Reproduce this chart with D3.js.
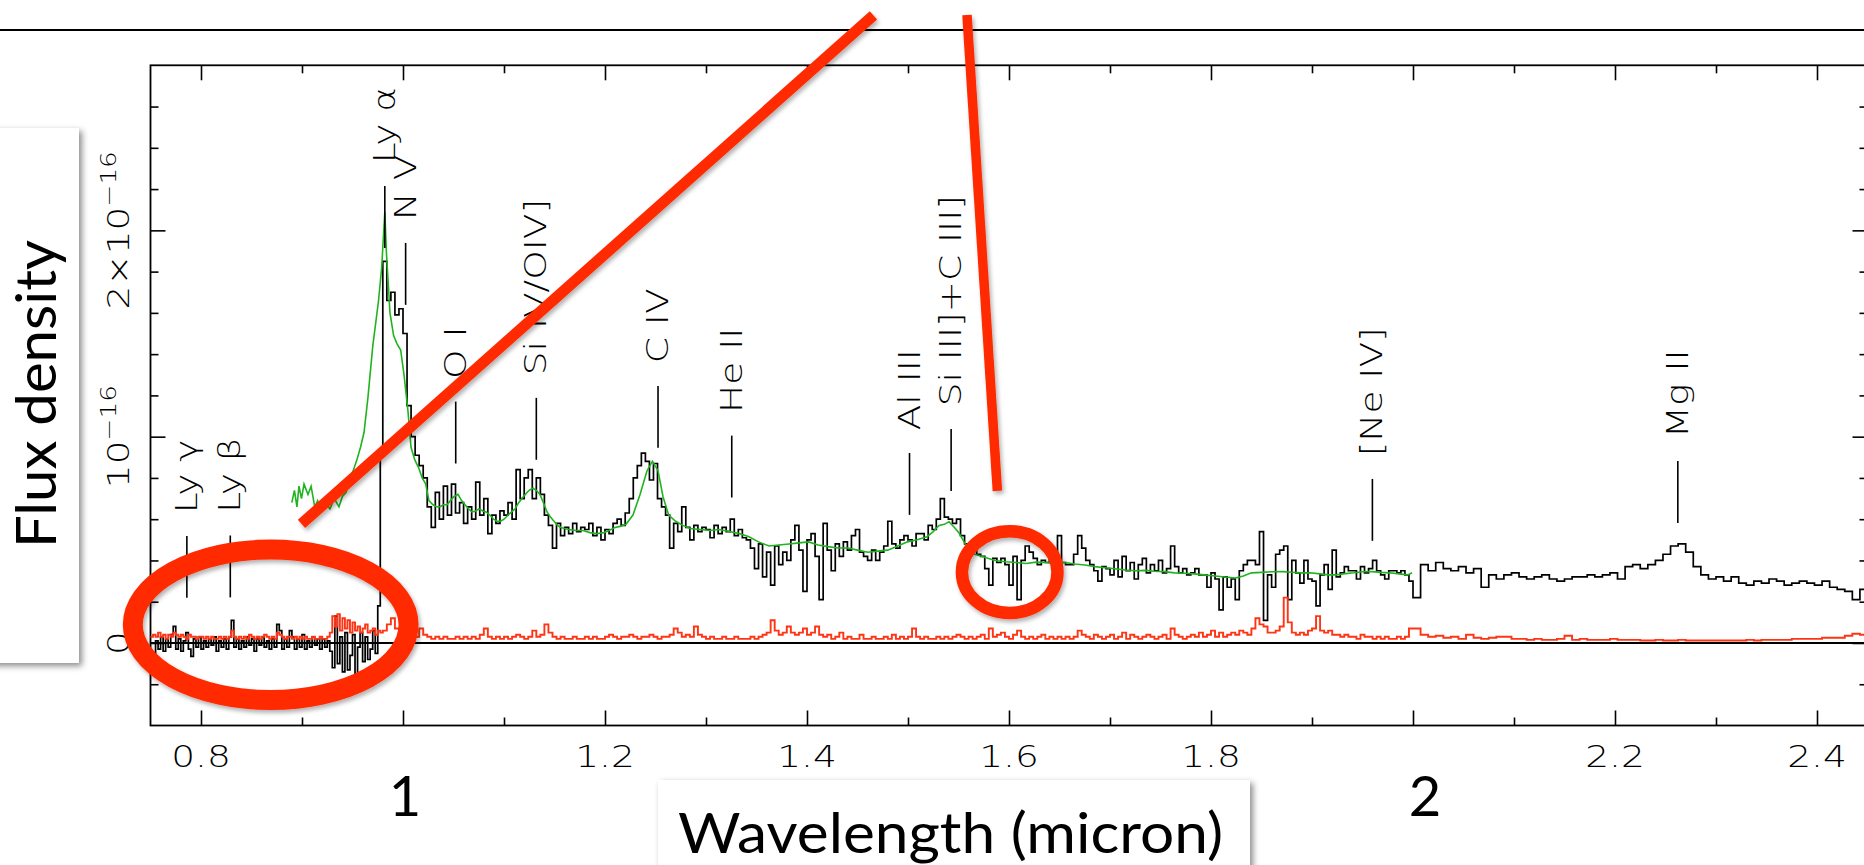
<!DOCTYPE html>
<html>
<head>
<meta charset="utf-8">
<script src="https://cdn.jsdelivr.net/npm/d3@7"></script>
<style>
  html, body { margin: 0; padding: 0; background: #fff; overflow: hidden; }
  svg { display: block; }
  .plotfont { font-family: "DejaVu Sans", sans-serif; font-weight: 200; fill: #000; }
  .slidefont { font-family: Lato, "Open Sans", sans-serif; fill: #000; }
</style>
</head>
<body>
<svg id="chart" width="1864" height="865"></svg>
<script>
// ---------------------------------------------------------------
// Spectrum of the z = 7.085 quasar (flux density in 1e-16 units)
// ---------------------------------------------------------------

// Optical (z-band) segment: uniform bins
const zBandStart = 0.75, zBandStep = 0.0025;
const zBandFlux = [
  -0.07,-0.07,0.01,-0.03,0.03,-0.04,0.02,-0.02,0.04,0.08,
  -0.03,0.02,-0.04,0.01,0.05,-0.03,-0.065,0.02,-0.02,0.03,
  -0.03,0.01,-0.02,0.02,-0.01,0.03,-0.04,0.01,-0.02,0.02,
  -0.03,0.03,0.11,-0.02,0.02,-0.03,0.01,-0.02,0.03,-0.01,
  0.02,-0.04,0.02,-0.01,0.03,-0.02,0.01,-0.03,0.02,-0.02,
  0.09,0.06,-0.03,0.02,-0.02,0.06,0.03,-0.03,0.02,-0.02,
  0.04,-0.03,0.01,-0.02,0.03,-0.01,0.02,-0.03,0.02,-0.02,
  0.01,-0.04,-0.12,0.13,-0.10,0.03,-0.14,0.05,-0.13,-0.06,
  0.04,-0.15,-0.02,0.05,-0.09,0.03,-0.08,-0.03,0.06,-0.05,
  0.18,0.94
];
const zBandErr = [
  0.03,0.04,0.03,0.05,0.03,0.04,0.02,0.04,0.03,0.05,
  0.04,0.03,0.04,0.03,0.02,0.04,0.03,0.03,0.02,0.03,
  0.03,0.02,0.03,0.02,0.03,0.02,0.02,0.03,0.02,0.03,
  0.02,0.03,0.06,0.03,0.02,0.03,0.02,0.03,0.02,0.04,
  0.03,0.02,0.03,0.02,0.03,0.04,0.03,0.02,0.03,0.02,
  0.05,0.04,0.03,0.02,0.03,0.03,0.02,0.03,0.02,0.03,
  0.02,0.03,0.02,0.02,0.03,0.02,0.02,0.03,0.02,0.02,
  0.03,0.05,0.13,0.08,0.14,0.06,0.12,0.07,0.11,0.05,
  0.10,0.06,0.08,0.05,0.07,0.09,0.05,0.06,0.07,0.04,
  0.06,0.05
];

// Near-infrared J/H segment
const jhBandStart = 0.98, jhBandStep = 0.004;
const jhBandFlux = [
  1.85,1.66,1.70,1.59,1.62,1.50,1.15,1.00,0.91,0.86,
  0.80,0.66,0.56,0.73,0.60,0.76,0.62,0.77,0.63,0.68,
  0.58,0.66,0.60,0.78,0.62,0.70,0.53,0.62,0.58,0.64,
  0.62,0.68,0.60,0.84,0.70,0.80,0.84,0.70,0.80,0.72,
  0.62,0.57,0.46,0.58,0.52,0.56,0.53,0.58,0.54,0.56,
  0.55,0.58,0.52,0.56,0.50,0.55,0.53,0.58,0.60,0.57,
  0.63,0.70,0.80,0.86,0.92,0.88,0.79,0.87,0.70,0.66,
  0.62,0.46,0.58,0.54,0.66,0.56,0.50,0.57,0.54,0.56,
  0.55,0.51,0.57,0.53,0.56,0.54,0.60,0.52,0.55,0.51,
  0.50,0.46,0.36,0.48,0.32,0.44,0.28,0.47,0.38,0.44,
  0.40,0.50,0.57,0.45,0.25,0.50,0.53,0.42,0.21,0.58,
  0.45,0.35,0.48,0.42,0.49,0.45,0.52,0.55,0.44,0.42,
  0.40,0.45,0.40,0.44,0.47,0.59,0.48,0.46,0.50,0.52,
  0.50,0.47,0.53,0.53,0.50,0.57,0.55,0.60,0.70,0.61,
  0.60,0.58,0.60,0.52,0.48,0.46,0.45,0.43,0.42,0.36,
  0.28,0.41,0.39,0.41,0.38,0.28,0.42,0.21,0.40,0.47,
  0.44,0.41,0.38,0.40,0.39,0.41,0.44,0.52,0.39,0.38,
  0.38,0.43,0.52,0.46,0.40,0.38,0.35,0.30,0.37,0.36,
  0.33,0.40,0.32,0.42,0.35,0.39,0.31,0.38,0.41,0.34,
  0.38,0.35,0.40,0.34,0.36,0.47,0.37,0.34,0.36,0.33,
  0.34,0.36,0.33,0.33,0.27,0.34,0.31,0.16,0.32,0.27,
  0.31,0.21,0.35,0.38,0.40,0.40,0.38,0.54,0.11,0.33,
  0.27,0.43,0.45,0.47,0.21,0.40,0.34,0.29,0.40,0.31,
  0.30,0.18,0.33,0.38,0.26,0.45,0.32,0.34,0.37,0.35,
  0.35,0.31,0.37,0.34,0.36,0.40,0.35,0.33,0.31,0.35,
  0.35,0.34,0.35,0.33,0.30
];
const jhBandErr = [
  0.06,0.09,0.12,0.07,0.05,0.04,0.03,0.04,0.03,0.07,
  0.04,0.03,0.02,0.03,0.02,0.03,0.02,0.02,0.03,0.02,
  0.03,0.02,0.03,0.02,0.04,0.07,0.03,0.02,0.03,0.02,
  0.03,0.02,0.03,0.04,0.03,0.02,0.03,0.06,0.03,0.04,
  0.09,0.05,0.03,0.02,0.03,0.02,0.02,0.03,0.02,0.02,
  0.03,0.02,0.03,0.02,0.02,0.03,0.04,0.03,0.02,0.03,
  0.03,0.04,0.03,0.02,0.03,0.03,0.04,0.03,0.02,0.03,
  0.03,0.04,0.07,0.05,0.03,0.04,0.03,0.08,0.04,0.03,
  0.02,0.03,0.02,0.02,0.03,0.02,0.02,0.03,0.02,0.02,
  0.02,0.03,0.02,0.03,0.04,0.05,0.11,0.06,0.04,0.05,
  0.08,0.05,0.04,0.05,0.07,0.04,0.05,0.08,0.04,0.03,
  0.04,0.02,0.03,0.05,0.02,0.03,0.02,0.02,0.04,0.02,
  0.02,0.03,0.02,0.02,0.03,0.02,0.04,0.02,0.03,0.02,
  0.03,0.07,0.03,0.02,0.03,0.02,0.02,0.03,0.02,0.03,
  0.02,0.03,0.04,0.03,0.02,0.03,0.02,0.03,0.04,0.02,
  0.07,0.03,0.04,0.05,0.03,0.02,0.04,0.06,0.03,0.02,
  0.03,0.02,0.03,0.04,0.02,0.03,0.02,0.03,0.02,0.03,
  0.02,0.03,0.06,0.04,0.03,0.02,0.04,0.03,0.02,0.03,
  0.04,0.02,0.03,0.05,0.02,0.04,0.03,0.02,0.03,0.04,
  0.03,0.02,0.03,0.04,0.02,0.07,0.04,0.03,0.02,0.03,
  0.04,0.03,0.05,0.03,0.04,0.06,0.03,0.05,0.03,0.04,
  0.05,0.04,0.06,0.05,0.04,0.07,0.12,0.09,0.08,0.05,
  0.05,0.06,0.08,0.22,0.10,0.05,0.04,0.05,0.04,0.06,
  0.07,0.13,0.06,0.05,0.06,0.04,0.04,0.03,0.04,0.03,
  0.03,0.02,0.04,0.03,0.03,0.02,0.03,0.02,0.03,0.02,
  0.02,0.03,0.02,0.03,0.07
];

// K-band segment
const kBandStart = 2.0, kBandStep = 0.0075;
const kBandFlux = [
  0.22,0.38,0.35,0.39,0.36,0.35,0.37,0.34,0.36,0.27,
  0.33,0.31,0.33,0.34,0.32,0.31,0.32,0.33,0.31,0.30,
  0.31,0.32,0.32,0.33,0.32,0.33,0.34,0.31,0.37,0.38,
  0.36,0.38,0.40,0.43,0.47,0.48,0.44,0.37,0.33,0.31,
  0.32,0.30,0.32,0.29,0.28,0.30,0.29,0.31,0.30,0.28,
  0.29,0.30,0.29,0.28,0.30,0.27,0.26,0.25,0.21,0.26
];
const kBandErr = [
  0.07,0.04,0.03,0.035,0.025,0.03,0.02,0.04,0.025,0.02,
  0.025,0.03,0.03,0.02,0.02,0.015,0.02,0.015,0.015,0.02,
  0.035,0.015,0.02,0.015,0.015,0.015,0.02,0.015,0.015,0.015,
  0.012,0.012,0.015,0.012,0.012,0.015,0.012,0.012,0.012,0.012,
  0.012,0.012,0.012,0.012,0.015,0.012,0.015,0.015,0.015,0.015,
  0.02,0.02,0.02,0.02,0.025,0.025,0.025,0.035,0.045,0.04
];

// Composite template (wavelength in micron, flux in 1e-16)
const templateSpectrum = [
  [0.8899,0.68],[0.8925,0.74],[0.8950,0.66],[0.8970,0.76],[0.8995,0.70],[0.9020,0.77],
  [0.9059,0.72],[0.9090,0.76],[0.9126,0.66],[0.9155,0.69],[0.9188,0.64],[0.9230,0.68],
  [0.9277,0.65],[0.9320,0.70],[0.9366,0.66],[0.9400,0.71],[0.9436,0.73],[0.9475,0.79],
  [0.9510,0.84],[0.9545,0.89],[0.9580,0.95],[0.9614,1.02],[0.9653,1.19],[0.9701,1.44],
  [0.9758,1.66],[0.9789,1.82],[0.9820,2.09],[0.9836,1.89],[0.9871,1.60],[0.9907,1.49],
  [0.9941,1.45],[0.9977,1.42],[1.0010,1.30],[1.0050,1.12],[1.0079,0.95],[1.0115,0.89],
  [1.0154,0.85],[1.0190,0.80],[1.0225,0.77],[1.0257,0.69],[1.0297,0.67],[1.0330,0.66],
  [1.0366,0.66],[1.0400,0.67],[1.0436,0.67],[1.0470,0.69],[1.0505,0.71],[1.0545,0.72],
  [1.0580,0.69],[1.0614,0.67],[1.0650,0.65],[1.0683,0.635],[1.0720,0.64],[1.0752,0.65],
  [1.0790,0.64],[1.0822,0.635],[1.0860,0.62],[1.0897,0.60],[1.0930,0.59],[1.0967,0.59],
  [1.1000,0.60],[1.1040,0.62],[1.1075,0.635],[1.1109,0.65],[1.1145,0.68],[1.1178,0.70],
  [1.1210,0.72],[1.1248,0.74],[1.1287,0.75],[1.1320,0.74],[1.1356,0.72],[1.1390,0.68],
  [1.1426,0.635],[1.1460,0.61],[1.1495,0.59],[1.1530,0.57],[1.1564,0.56],[1.1600,0.555],
  [1.1640,0.55],[1.1710,0.545],[1.1782,0.545],[1.1850,0.535],[1.1921,0.53],[1.1990,0.535],
  [1.2040,0.545],[1.2099,0.56],[1.2150,0.565],[1.2208,0.575],[1.2277,0.62],[1.2347,0.72],
  [1.2416,0.835],[1.2470,0.88],[1.2525,0.835],[1.2574,0.71],[1.2630,0.62],[1.2700,0.59],
  [1.2770,0.57],[1.2842,0.555],[1.2941,0.55],[1.3040,0.545],[1.3130,0.55],[1.3233,0.54],
  [1.3330,0.53],[1.3426,0.515],[1.3520,0.49],[1.3624,0.47],[1.3720,0.475],[1.3822,0.48],
  [1.3920,0.485],[1.4016,0.49],[1.4110,0.475],[1.4208,0.467],[1.4310,0.46],[1.4406,0.46],
  [1.4500,0.45],[1.4604,0.44],[1.4700,0.445],[1.4799,0.45],[1.4900,0.47],[1.4995,0.49],
  [1.5090,0.50],[1.5188,0.515],[1.5250,0.54],[1.5307,0.57],[1.5360,0.575],[1.5406,0.588],
  [1.5460,0.56],[1.5505,0.533],[1.5582,0.467],[1.5660,0.43],[1.5760,0.415],[1.5860,0.40],
  [1.5970,0.394],[1.6070,0.39],[1.6170,0.385],[1.6270,0.392],[1.6366,0.39],[1.6460,0.386],
  [1.6560,0.39],[1.6650,0.383],[1.6752,0.378],[1.6850,0.37],[1.6950,0.365],[1.7050,0.36],
  [1.7149,0.354],[1.7250,0.35],[1.7350,0.352],[1.7440,0.348],[1.7540,0.346],[1.7640,0.34],
  [1.7740,0.338],[1.7830,0.335],[1.7931,0.33],[1.8040,0.325],[1.8140,0.32],[1.8244,0.315],
  [1.8320,0.325],[1.8401,0.34],[1.8500,0.342],[1.8600,0.345],[1.8713,0.346],[1.8800,0.343],
  [1.8900,0.34],[1.8980,0.34],[1.9080,0.335],[1.9160,0.33],[1.9238,0.33],[1.9330,0.336],
  [1.9416,0.34],[1.9500,0.345],[1.9594,0.346],[1.9680,0.342],[1.9772,0.34],[1.9860,0.335],
  [1.9950,0.33],[1.9990,0.34]
];

// Emission-line identifications: name, observed wavelength (micron), marker top (flux)
const lineNames = ["Ly \u03b3","Ly \u03b2","Ly \u03b1","N V","O I","Si IV/OIV]","C IV","He II",
                   "Al III","Si III]+C III]","[Ne IV]","Mg II"];
const lineWaves = [0.786, 0.829, 0.982, 1.0026, 1.0522, 1.132, 1.2525, 1.3255,
                   1.5015, 1.5427, 1.9598, 2.2622];
const lineTops  = [0.519, 0.521, 2.215, 1.939, 1.17, 1.188, 1.246, 1.005,
                   0.921, 1.037, 0.795, 0.882];

// Axis labelling
const xTickValues = [0.8, 1.2, 1.4, 1.6, 1.8, 2.2, 2.4];
const xTickLabels = ["0.8", "1.2", "1.4", "1.6", "1.8", "2.2", "2.4"];
const bigTickValues = [1, 2];
const bigTickLabels = ["1", "2"];
const yTickValues = [0, 1, 2];
const yTickMantissa = ["0", "10", "2\u00d710"];
const yTickExponent = ["", "\u221216", "\u221216"];

// Hand-drawn call-outs (data coordinates)
const calloutRings = [
  { cx: 0.869, cy: 0.088, rx: 0.1365, ry: 0.3645 },
  { cx: 1.6007, cy: 0.343, rx: 0.0473, ry: 0.198 }
];
const calloutStrokes = [
  { x1: 0.8995, y1: 0.577, x2: 1.4658, y2: 3.042 },
  { x1: 1.5584, y1: 3.044, x2: 1.5885, y2: 0.737 }
];

// ---------------------------------------------------------------
const svg = d3.select("#chart");
const x = d3.scaleLinear().domain([0.75, 2.45]).range([150.5, 1867.5]);
const y = d3.scaleLinear().domain([-0.4, 2.8]).range([725.5, 65.3]);
const WIDEN = "scale(1.25,1)";   // the plot lettering is a wide, thin face

const defs = svg.append("defs");
const boxShadow = defs.append("filter").attr("id", "boxShadow")
  .attr("x", "-20%").attr("y", "-20%").attr("width", "140%").attr("height", "140%");
boxShadow.append("feDropShadow").attr("dx", 3).attr("dy", 3).attr("stdDeviation", 3)
  .attr("flood-color", "#000").attr("flood-opacity", 0.45);
const inkShadow = defs.append("filter").attr("id", "inkShadow")
  .attr("x", "-20%").attr("y", "-20%").attr("width", "140%").attr("height", "140%");
inkShadow.append("feDropShadow").attr("dx", 2).attr("dy", 3).attr("stdDeviation", 2)
  .attr("flood-color", "#000").attr("flood-opacity", 0.3);

// rule across the top of the slide
svg.append("line").attr("x1", 0).attr("x2", 1864).attr("y1", 30).attr("y2", 30)
  .attr("stroke", "#000").attr("stroke-width", 2.2);

// plot frame
const [x0, x1] = x.range();
const [yb, yt] = y.range();
svg.append("rect").attr("x", x0).attr("y", yt).attr("width", x1 - x0).attr("height", yb - yt)
  .attr("fill", "none").attr("stroke", "#000").attr("stroke-width", 1.8);

// ticks on all four sides, pointing inward
const xTicksAll = x.ticks(17);
const isMajorX = v => Math.round(v * 10) % 2 === 0;
const yTicksAll = y.ticks(16).filter(v => v > -0.39 && v < 2.79);
const isMajorY = v => Math.abs(v - Math.round(v)) < 1e-6;

function tickGroup(axisGen, transform, values, size) {
  const g = svg.append("g").attr("transform", transform)
    .call(axisGen.tickValues(values).tickSize(size).tickFormat(""));
  g.select(".domain").remove();
  g.selectAll("line").attr("stroke", "#000").attr("stroke-width", 1.6);
}
tickGroup(d3.axisTop(x), `translate(0,${yb})`, xTicksAll.filter(v => !isMajorX(v)), 8);
tickGroup(d3.axisTop(x), `translate(0,${yb})`, xTicksAll.filter(isMajorX), 15);
tickGroup(d3.axisBottom(x), `translate(0,${yt})`, xTicksAll.filter(v => !isMajorX(v)), 8);
tickGroup(d3.axisBottom(x), `translate(0,${yt})`, xTicksAll.filter(isMajorX), 15);
tickGroup(d3.axisRight(y), `translate(${x0},0)`, yTicksAll.filter(v => !isMajorY(v)), 8);
tickGroup(d3.axisRight(y), `translate(${x0},0)`, yTicksAll.filter(isMajorY), 15);
tickGroup(d3.axisLeft(y), `translate(${x1},0)`, yTicksAll.filter(v => !isMajorY(v)), 8);
tickGroup(d3.axisLeft(y), `translate(${x1},0)`, yTicksAll.filter(isMajorY), 15);

// zero level
svg.append("line").attr("x1", x0).attr("x2", x1).attr("y1", y(0)).attr("y2", y(0))
  .attr("stroke", "#000").attr("stroke-width", 1.8);

// x tick labels
svg.append("g").selectAll("text").data(xTickValues).join("text")
  .attr("class", "plotfont").attr("font-size", 30).attr("text-anchor", "middle")
  .attr("transform", d => `translate(${x(d)},767) ${WIDEN}`)
  .text((d, i) => xTickLabels[i]);

// y tick labels (rotated, with exponent)
const yLab = svg.append("g").selectAll("text").data(yTickValues).join("text")
  .attr("class", "plotfont").attr("font-size", 30).attr("text-anchor", "middle")
  .attr("transform", d => `translate(129,${y(d)}) rotate(-90) ${WIDEN}`);
yLab.append("tspan").text((d, i) => yTickMantissa[i]);
yLab.append("tspan").attr("font-size", 21).attr("dy", -13).text((d, i) => yTickExponent[i]);

// step histograms from uniformly binned segments
function binsFrom(start, step, vals) {
  return vals.map((v, i) => ({ w0: start + i * step, w1: start + (i + 1) * step, v }));
}
function stepPoints(bins) {
  const pts = [];
  bins.forEach(b => { pts.push([b.w0, b.v]); pts.push([b.w1, b.v]); });
  return pts;
}
const fluxBins = [
  ...binsFrom(zBandStart, zBandStep, zBandFlux),
  ...binsFrom(jhBandStart, jhBandStep, jhBandFlux),
  ...binsFrom(kBandStart, kBandStep, kBandFlux)
];
const errBins = [
  ...binsFrom(zBandStart, zBandStep, zBandErr),
  ...binsFrom(jhBandStart, jhBandStep, jhBandErr),
  ...binsFrom(kBandStart, kBandStep, kBandErr)
];
const line = d3.line().x(d => x(d[0])).y(d => y(d[1]));

svg.append("path").attr("d", line(stepPoints(fluxBins)))
  .attr("fill", "none").attr("stroke", "#000").attr("stroke-width", 1.7)
  .attr("stroke-linejoin", "miter");
svg.append("path").attr("d", line(stepPoints(errBins)))
  .attr("fill", "none").attr("stroke", "#ff3414").attr("stroke-width", 1.9);
svg.append("path").attr("d", line(templateSpectrum))
  .attr("fill", "none").attr("stroke", "#1fb41f").attr("stroke-width", 1.6);

// line identifications
const ids = svg.append("g");
lineNames.forEach((name, i) => {
  const lx = x(lineWaves[i]);
  ids.append("line").attr("x1", lx).attr("x2", lx)
    .attr("y1", y(lineTops[i])).attr("y2", y(lineTops[i] - 0.30))
    .attr("stroke", "#000").attr("stroke-width", 1.6);
  ids.append("text").attr("class", "plotfont").attr("font-size", 30)
    .attr("transform", `translate(${lx + 10},${y(lineTops[i] + 0.11)}) rotate(-90) ${WIDEN}`)
    .text(name);
});

// big slide numerals under the 1 and 2 micron ticks
const bigTickNudge = [2, 12];
svg.append("g").selectAll("text").data(bigTickValues).join("text")
  .attr("class", "slidefont").attr("font-size", 56).attr("text-anchor", "middle")
  .attr("x", (d, i) => x(d) + bigTickNudge[i]).attr("y", 816).text((d, i) => bigTickLabels[i]);

// axis title boxes
svg.append("rect").attr("x", -20).attr("y", 128).attr("width", 99).attr("height", 535)
  .attr("fill", "#fff").attr("filter", "url(#boxShadow)");
svg.append("text").attr("class", "slidefont").attr("font-size", 56)
  .attr("transform", "translate(56,548) rotate(-90)")
  .attr("textLength", 308).attr("lengthAdjust", "spacingAndGlyphs")
  .text("Flux density");

svg.append("rect").attr("x", 658).attr("y", 780).attr("width", 592).attr("height", 120)
  .attr("fill", "#fff").attr("filter", "url(#boxShadow)");
svg.append("text").attr("class", "slidefont").attr("font-size", 56)
  .attr("x", 678).attr("y", 853)
  .attr("textLength", 545).attr("lengthAdjust", "spacingAndGlyphs")
  .text("Wavelength (micron)");

// red call-outs
const ink = "#ff2a00";
const notes = svg.append("g").attr("filter", "url(#inkShadow)");
calloutStrokes.forEach((s, i) => {
  notes.append("line")
    .attr("x1", x(s.x1)).attr("y1", y(s.y1)).attr("x2", x(s.x2)).attr("y2", y(s.y2))
    .attr("stroke", ink).attr("stroke-width", i === 0 ? 11 : 9.5).attr("stroke-linecap", "butt");
});
calloutRings.forEach((r, i) => {
  notes.append("ellipse")
    .attr("cx", x(r.cx)).attr("cy", y(r.cy))
    .attr("rx", x(r.cx + r.rx) - x(r.cx)).attr("ry", y(r.cy - r.ry) - y(r.cy))
    .attr("fill", "none").attr("stroke", ink).attr("stroke-width", i === 0 ? 20 : 12.5);
});
</script>
</body>
</html>
